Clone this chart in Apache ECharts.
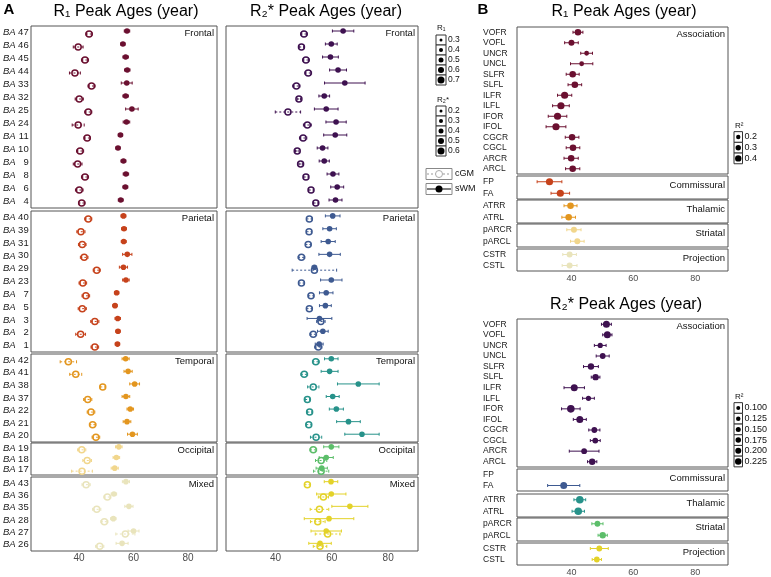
<!DOCTYPE html>
<html>
<head>
<meta charset="utf-8">
<script src="https://cdn.jsdelivr.net/npm/echarts@6/dist/echarts.min.js"></script>
<style>
html, body { margin: 0; padding: 0; background: #fff; }
#main { width: 771px; height: 577px; }
</style>
</head>
<body>
<div id="main"></div>
<script>
//x轴范围和刻度
var X_MIN = 22.4, X_MAX = 90.6;
var xTicks = [40, 60, 80];

//A 面板：脑区 (BA)
var baFrontal = ['47', '46', '45', '44', '33', '32', '25', '24', '11', '10', '9', '8', '6', '4'];
var baParietal = ['40', '39', '31', '30', '29', '23', '7', '5', '3', '2', '1'];
var baTemporal = ['42', '41', '38', '37', '22', '21', '20'];
var baOccipital = ['19', '18', '17'];
var baMixed = ['43', '36', '35', '28', '27', '26'];
var lobeNames = ['Frontal', 'Parietal', 'Temporal', 'Occipital', 'Mixed'];

//A R1 峰值年龄 cGM / sWM 及误差
var r1FrontalGM = [43.7, 39.7, 42.2, 38.5, 44.6, 40.1, 43.4, 39.7, 43.0, 40.4, 39.5, 42.2, 40.1, 41.0];
var r1FrontalGMErr = [1.2, 1.8, 1.3, 2.0, 1.3, 1.5, 1.3, 2.2, 1.2, 1.3, 1.6, 1.3, 1.4, 1.2];
var r1FrontalWM = [57.6, 56.1, 57.1, 57.7, 57.5, 57.1, 59.4, 57.4, 55.2, 54.3, 56.3, 57.2, 57.0, 55.3];
var r1FrontalWMErr = [1.0, 0.8, 1.0, 1.0, 2.0, 1.0, 2.3, 1.2, 0.8, 0.8, 0.9, 1.0, 0.9, 0.9];
var r1ParietalGM = [43.4, 40.7, 41.2, 41.9, 46.5, 41.4, 42.5, 41.2, 45.8, 40.6, 45.8];
var r1ParietalGMErr = [1.3, 1.5, 1.4, 1.4, 1.3, 1.4, 1.4, 1.5, 1.5, 1.8, 1.4];
var r1ParietalWM = [56.3, 56.5, 56.4, 57.7, 56.3, 57.2, 53.8, 53.2, 54.2, 54.3, 54.1];
var r1ParietalWMErr = [0.9, 0.9, 0.9, 1.7, 1.5, 1.2, 0.8, 0.8, 1.0, 0.8, 0.8];
var r1TemporalGM = [36.1, 38.8, 48.7, 43.2, 44.4, 45.0, 46.2];
var r1TemporalGMErr = [3.0, 2.2, 0.9, 1.5, 1.4, 1.2, 1.4];
var r1TemporalWM = [57.1, 58.0, 60.4, 57.2, 58.8, 57.6, 59.6];
var r1TemporalWMErr = [1.3, 1.5, 1.8, 1.4, 1.2, 1.4, 1.8];
var r1OccipitalGM = [41.0, 43.0, 41.1];
var r1OccipitalGMErr = [1.5, 1.6, 3.8];
var r1OccipitalWM = [54.6, 53.7, 53.1];
var r1OccipitalWMErr = [1.2, 1.2, 1.3];
var r1MixedGM = [42.6, 50.4, 46.5, 49.3, 57.0, 47.6];
var r1MixedGMErr = [1.5, 1.3, 1.5, 1.3, 3.5, 1.5];
var r1MixedWM = [57.2, 52.8, 58.3, 52.6, 60.0, 55.8];
var r1MixedWMErr = [1.3, 1.0, 1.5, 1.0, 2.0, 2.2];

//A R2* 峰值年龄
var r2FrontalGM = [50.1, 49.2, 50.8, 51.6, 47.4, 48.3, 44.4, 51.3, 49.8, 47.7, 48.9, 50.8, 52.6, 54.3];
var r2FrontalGMErr = [1.2, 0.8, 1.2, 1.2, 1.3, 0.6, 4.5, 1.4, 1.3, 0.6, 0.6, 0.8, 0.8, 0.8];
var r2FrontalWM = [64.0, 59.8, 59.5, 62.2, 64.6, 57.3, 58.0, 61.5, 61.2, 56.7, 57.3, 60.4, 61.9, 61.3];
var r2FrontalWMErr = [3.8, 2.1, 2.8, 3.0, 7.2, 1.9, 4.2, 3.6, 4.1, 1.9, 1.8, 2.1, 2.3, 2.3];
var r2ParietalGM = [52.0, 51.9, 51.6, 49.2, 53.8, 49.2, 52.6, 52.0, 56.1, 53.4, 55.2];
var r2ParietalGMErr = [1.0, 0.9, 1.0, 1.2, 7.9, 1.0, 1.0, 1.0, 1.5, 1.2, 1.3];
var r2ParietalWM = [60.3, 59.2, 58.7, 59.2, 53.8, 59.8, 58.0, 57.7, 55.6, 56.8, 55.5];
var r2ParietalWMErr = [2.6, 2.4, 2.5, 3.8, 0.8, 3.8, 2.4, 2.1, 4.4, 1.9, 1.4];
var r2TemporalGM = [54.3, 50.2, 53.4, 51.3, 52.1, 51.8, 54.4];
var r2TemporalGMErr = [1.2, 1.2, 2.0, 0.8, 0.8, 0.9, 2.0];
var r2TemporalWM = [59.8, 59.2, 69.4, 60.3, 61.6, 65.9, 70.7];
var r2TemporalWMErr = [2.4, 3.0, 7.4, 2.3, 2.5, 4.2, 6.1];
var r2OccipitalGM = [53.4, 56.2, 56.2];
var r2OccipitalGMErr = [1.2, 2.0, 2.7];
var r2OccipitalWM = [59.8, 58.0, 56.4];
var r2OccipitalWMErr = [2.7, 2.5, 2.0];
var r2MixedGM = [51.3, 57.0, 55.6, 55.0, 58.5, 55.8];
var r2MixedGMErr = [1.0, 1.8, 3.3, 2.6, 4.4, 2.4];
var r2MixedWM = [59.7, 59.8, 66.4, 59.0, 58.0, 55.8];
var r2MixedWMErr = [2.4, 5.2, 6.4, 8.8, 5.4, 4.0];

//B 面板：纤维束
var tractAssoc = ['VOFR', 'VOFL', 'UNCR', 'UNCL', 'SLFR', 'SLFL', 'ILFR', 'ILFL', 'IFOR', 'IFOL', 'CGCR', 'CGCL', 'ARCR', 'ARCL'];
var tractComm = ['FP', 'FA'];
var tractThal = ['ATRR', 'ATRL'];
var tractStri = ['pARCR', 'pARCL'];
var tractProj = ['CSTR', 'CSTL'];
var tractNames = ['Association', 'Commissural', 'Thalamic', 'Striatal', 'Projection'];

//B R1
var bR1Assoc = [42.1, 40.0, 44.9, 43.3, 40.4, 41.1, 37.8, 36.6, 35.5, 35.0, 40.2, 40.5, 39.9, 40.4];
var bR1AssocErr = [1.6, 2.2, 1.9, 3.6, 2.1, 2.2, 2.3, 2.7, 3.0, 3.2, 2.2, 2.2, 2.3, 2.3];
var bR1AssocR2 = [0.35, 0.3, 0.2, 0.2, 0.35, 0.35, 0.4, 0.4, 0.4, 0.4, 0.35, 0.35, 0.35, 0.35];
var bR1Comm = [32.9, 36.4], bR1CommErr = [4.0, 3.0], bR1CommR2 = [0.4, 0.4];
var bR1Thal = [39.7, 39.1], bR1ThalErr = [2.1, 2.2], bR1ThalR2 = [0.35, 0.35];
var bR1Stri = [40.8, 41.9], bR1StriErr = [2.3, 2.2], bR1StriR2 = [0.3, 0.3];
var bR1Proj = [39.4, 39.4], bR1ProjErr = [2.2, 2.4], bR1ProjR2 = [0.3, 0.3];

//B R2*
var bR2Assoc = [51.3, 51.6, 49.3, 50.1, 46.3, 47.8, 40.9, 45.5, 39.8, 42.7, 47.4, 47.7, 44.1, 46.7];
var bR2AssocErr = [1.6, 1.5, 1.9, 2.1, 2.4, 1.4, 3.3, 1.9, 3.0, 2.1, 1.8, 1.6, 4.8, 1.5];
var bR2AssocR2 = [0.2, 0.2, 0.125, 0.15, 0.175, 0.175, 0.2, 0.125, 0.225, 0.2, 0.15, 0.15, 0.15, 0.175];
var bR2Comm = [null, 37.5], bR2CommErr = [0, 5.2], bR2CommR2 = [0, 0.2];
var bR2Thal = [42.7, 42.2], bR2ThalErr = [1.9, 2.0], bR2ThalR2 = [0.225, 0.225];
var bR2Stri = [48.4, 50.1], bR2StriErr = [1.8, 1.5], bR2StriR2 = [0.15, 0.175];
var bR2Proj = [49.0, 48.2], bR2ProjErr = [2.9, 1.5], bR2ProjR2 = [0.15, 0.15];

//图例
var r1SizeLevels = [0.3, 0.4, 0.5, 0.6, 0.7];
var r2SizeLevels = [0.2, 0.3, 0.4, 0.5, 0.6];
var tissueNames = ['cGM', 'sWM'];
var bR1Levels = [0.2, 0.3, 0.4];
var bR2Levels = [0.100, 0.125, 0.150, 0.175, 0.200, 0.225];

//颜色
var r1Colors = ['#6b1030', '#c6421b', '#e3961f', '#f1d68c', '#e9e4bc'];
var r2Colors = ['#3e1150', '#3e5a91', '#27928a', '#5cbe6a', '#e3d229'];

var FONT = '"Liberation Sans", Arial, sans-serif';
var grids = [], xAxes = [], yAxes = [], series = [], graphics = [];

function rows(vals, errs, sizes) {
    var out = [];
    for (var i = 0; i < vals.length; i++) {
        if (vals[i] == null) continue;
        out.push([vals[i], i, vals[i] - errs[i], vals[i] + errs[i], sizes ? sizes[i] : 0]);
    }
    return out;
}

//误差线 + 点
function makeRender(color, hollow, dodge, radiusFn) {
    return function (params, api) {
        var row = api.value(1);
        var p = api.coord([api.value(0), row]);
        var a = api.coord([api.value(2), row]);
        var b = api.coord([api.value(3), row]);
        var y = p[1] + dodge;
        var r = radiusFn(api.value(4));
        var ls = {stroke: color, lineWidth: 1, lineDash: hollow ? [2, 2] : null};
        return {
            type: 'group',
            children: [
                {type: 'line', shape: {x1: a[0], y1: y, x2: b[0], y2: y}, style: ls},
                {type: 'line', shape: {x1: a[0], y1: y - 1.5, x2: a[0], y2: y + 1.5}, style: {stroke: color, lineWidth: 1}},
                {type: 'line', shape: {x1: b[0], y1: y - 1.5, x2: b[0], y2: y + 1.5}, style: {stroke: color, lineWidth: 1}},
                {type: 'circle', shape: {cx: p[0], cy: y, r: r},
                    style: hollow ? {fill: 'none', stroke: color, lineWidth: 1.5} : {fill: color}}
            ]
        };
    };
}

function addFacet(left, top, width, height, cats, label, showX, xMargin, xFont, strip) {
    var i = grids.length;
    grids.push({left: left, top: top, width: width, height: height, show: true,
        borderColor: '#555', borderWidth: 1, backgroundColor: '#fff', outerBoundsMode: 'none'});
    xAxes.push({type: 'value', gridIndex: i, min: X_MIN, max: X_MAX,
        axisLine: {show: false}, axisTick: {show: false}, splitLine: {show: false},
        axisLabel: {show: showX, customValues: xTicks, color: '#4d4d4d', fontSize: xFont, fontFamily: FONT, margin: xMargin}});
    yAxes.push({type: 'category', gridIndex: i, data: cats, inverse: true,
        axisLine: {show: false}, axisTick: {show: false}, splitLine: {show: false},
        axisLabel: label});
    graphics.push({type: 'text', x: left + width - 3, y: top + (height < 30 ? 9.5 : 7.5), z: 10,
        style: {text: strip, align: 'right', verticalAlign: 'middle', fontSize: 9.5, fontFamily: FONT, fill: '#111'}});
    return i;
}

var baLabel = {
    show: true, interval: 0, align: 'left', margin: 28,
    formatter: function (v) { return '{i|BA}{n|' + v + '}'; },
    rich: {
        i: {fontStyle: 'italic', fontSize: 9.5, fontFamily: FONT, color: '#1a1a1a'},
        n: {fontSize: 9.5, width: 13, align: 'right', fontFamily: FONT, color: '#1a1a1a'}
    }
};
var tractLabel = {show: true, interval: 0, align: 'left', margin: 34, fontSize: 8.5, fontFamily: FONT, color: '#1a1a1a'};

//A 面板
var layoutA = [[26, 182], [211, 141], [354, 88], [443, 32], [477, 74]];
var baCats = [baFrontal, baParietal, baTemporal, baOccipital, baMixed];
var r1Sets = [
    [r1FrontalGM, r1FrontalGMErr, r1FrontalWM, r1FrontalWMErr],
    [r1ParietalGM, r1ParietalGMErr, r1ParietalWM, r1ParietalWMErr],
    [r1TemporalGM, r1TemporalGMErr, r1TemporalWM, r1TemporalWMErr],
    [r1OccipitalGM, r1OccipitalGMErr, r1OccipitalWM, r1OccipitalWMErr],
    [r1MixedGM, r1MixedGMErr, r1MixedWM, r1MixedWMErr]
];
var r2Sets = [
    [r2FrontalGM, r2FrontalGMErr, r2FrontalWM, r2FrontalWMErr],
    [r2ParietalGM, r2ParietalGMErr, r2ParietalWM, r2ParietalWMErr],
    [r2TemporalGM, r2TemporalGMErr, r2TemporalWM, r2TemporalWMErr],
    [r2OccipitalGM, r2OccipitalGMErr, r2OccipitalWM, r2OccipitalWMErr],
    [r2MixedGM, r2MixedGMErr, r2MixedWM, r2MixedWMErr]
];
var rA = function () { return 3; };
var rAfill = function () { return 2.8; };

for (var k = 0; k < 5; k++) {
    var last = k === 4;
    var g1 = addFacet(31, layoutA[k][0], 186, layoutA[k][1], baCats[k], baLabel, last, 2, 10, lobeNames[k]);
    series.push({type: 'custom', xAxisIndex: g1, yAxisIndex: g1, silent: true,
        renderItem: makeRender(r1Colors[k], false, -1.5, rAfill), data: rows(r1Sets[k][2], r1Sets[k][3])});
    series.push({type: 'custom', xAxisIndex: g1, yAxisIndex: g1, silent: true,
        renderItem: makeRender(r1Colors[k], true, 1.5, rA), data: rows(r1Sets[k][0], r1Sets[k][1])});

    var g2 = addFacet(226, layoutA[k][0], 192, layoutA[k][1], baCats[k], {show: false}, last, 2, 10, lobeNames[k]);
    series.push({type: 'custom', xAxisIndex: g2, yAxisIndex: g2, silent: true,
        renderItem: makeRender(r2Colors[k], false, -1.5, rAfill), data: rows(r2Sets[k][2], r2Sets[k][3])});
    series.push({type: 'custom', xAxisIndex: g2, yAxisIndex: g2, silent: true,
        renderItem: makeRender(r2Colors[k], true, 1.5, rA), data: rows(r2Sets[k][0], r2Sets[k][1])});
}

//B 面板
var layoutBTop = [[27, 147], [176, 23], [200, 23], [224, 23], [249, 22]];
var layoutBBot = [[319, 148], [469, 22], [494, 23], [518, 23], [543, 22]];
var tractCats = [tractAssoc, tractComm, tractThal, tractStri, tractProj];
var bR1Sets = [
    [bR1Assoc, bR1AssocErr, bR1AssocR2], [bR1Comm, bR1CommErr, bR1CommR2], [bR1Thal, bR1ThalErr, bR1ThalR2],
    [bR1Stri, bR1StriErr, bR1StriR2], [bR1Proj, bR1ProjErr, bR1ProjR2]
];
var bR2Sets = [
    [bR2Assoc, bR2AssocErr, bR2AssocR2], [bR2Comm, bR2CommErr, bR2CommR2], [bR2Thal, bR2ThalErr, bR2ThalR2],
    [bR2Stri, bR2StriErr, bR2StriR2], [bR2Proj, bR2ProjErr, bR2ProjR2]
];
var rB1 = function (v) { return 2.4 + (v - 0.2) * 6; };
var rB2 = function (v) { return 2.3 + (v - 0.1) * 12; };

for (var m = 0; m < 5; m++) {
    var lastB = m === 4;
    var gt = addFacet(517, layoutBTop[m][0], 211, layoutBTop[m][1], tractCats[m], tractLabel, lastB, 3, 9, tractNames[m]);
    series.push({type: 'custom', xAxisIndex: gt, yAxisIndex: gt, silent: true,
        renderItem: makeRender(r1Colors[m], false, 0, rB1), data: rows(bR1Sets[m][0], bR1Sets[m][1], bR1Sets[m][2])});
    var gb = addFacet(517, layoutBBot[m][0], 211, layoutBBot[m][1], tractCats[m], tractLabel, lastB, 3.5, 9, tractNames[m]);
    series.push({type: 'custom', xAxisIndex: gb, yAxisIndex: gb, silent: true,
        renderItem: makeRender(r2Colors[m], false, 0, rB2), data: rows(bR2Sets[m][0], bR2Sets[m][1], bR2Sets[m][2])});
}

//标题
function addText(x, y, text, size, weight) {
    graphics.push({type: 'text', x: x, y: y,
        style: {text: text, align: 'center', verticalAlign: 'middle', fontSize: size, fontWeight: weight || 'normal', fontFamily: FONT, fill: '#000'}});
}
addText(9, 10, 'A', 15, 'bold');
addText(483, 10, 'B', 15, 'bold');
addText(126, 12, 'R\u2081 Peak Ages (year)', 16);
addText(326, 12, 'R\u2082* Peak Ages (year)', 16);
addText(624, 12, 'R\u2081 Peak Ages (year)', 16);
addText(626, 305, 'R\u2082* Peak Ages (year)', 16);

//大小图例
function sizeLegend(x, yTitle, title, levels, y0, step, boxW, rFn, fmt, fsize) {
    graphics.push({type: 'text', x: x + 1, y: yTitle,
        style: {text: title, align: 'left', verticalAlign: 'middle', fontSize: 8, fontFamily: FONT, fill: '#111'}});
    for (var i = 0; i < levels.length; i++) {
        var cy = y0 + i * step;
        graphics.push({type: 'rect', shape: {x: x, y: cy - step / 2, width: boxW, height: step},
            style: {fill: '#fff', stroke: '#333', lineWidth: 1}});
        graphics.push({type: 'circle', shape: {cx: x + boxW / 2, cy: cy, r: rFn(levels[i])}, style: {fill: '#000'}});
        graphics.push({type: 'text', x: x + boxW + 2, y: cy,
            style: {text: fmt(levels[i]), align: 'left', verticalAlign: 'middle', fontSize: fsize, fontFamily: FONT, fill: '#111'}});
    }
}
sizeLegend(436, 28, 'R\u2081', r1SizeLevels, 40, 10, 10, function (v) { return 1.5 + (v - 0.3) * 5; }, function (v) { return v.toFixed(1); }, 8.5);
sizeLegend(436, 100, 'R\u2082*', r2SizeLevels, 111, 10, 10, function (v) { return 1.5 + (v - 0.2) * 5; }, function (v) { return v.toFixed(1); }, 8.5);
sizeLegend(734, 126, 'R\u00b2', bR1Levels, 137, 10.7, 8.5, function (v) { return 2.2 + (v - 0.2) * 5; }, function (v) { return v.toFixed(1); }, 9);
sizeLegend(734, 397, 'R\u00b2', bR2Levels, 408, 10.7, 8.5, function (v) { return 2 + (v - 0.1) * 10; }, function (v) { return v.toFixed(3); }, 9);

//cGM / sWM 图例
var tissueY = [174, 189];
for (var t = 0; t < tissueNames.length; t++) {
    var ty = tissueY[t];
    var hollow = t === 0;
    graphics.push({type: 'rect', shape: {x: 426, y: ty - 5.5, width: 26, height: 11},
        style: {fill: '#fff', stroke: '#888', lineWidth: 1}});
    graphics.push({type: 'line', shape: {x1: 427, y1: ty, x2: 451, y2: ty},
        style: {stroke: hollow ? '#999' : '#000', lineWidth: 1, lineDash: hollow ? [2, 2] : null}});
    graphics.push({type: 'circle', shape: {cx: 439, cy: ty, r: 3.5},
        style: hollow ? {fill: '#fff', stroke: '#aaa', lineWidth: 1} : {fill: '#000'}});
    graphics.push({type: 'text', x: 455, y: ty,
        style: {text: tissueNames[t], align: 'left', verticalAlign: 'middle', fontSize: 9, fontFamily: FONT, fill: '#111'}});
}

var chart = echarts.init(document.getElementById('main'));
chart.setOption({
    animation: false,
    backgroundColor: '#fff',
    grid: grids,
    xAxis: xAxes,
    yAxis: yAxes,
    series: series,
    graphic: graphics
});
</script>
</body>
</html>
